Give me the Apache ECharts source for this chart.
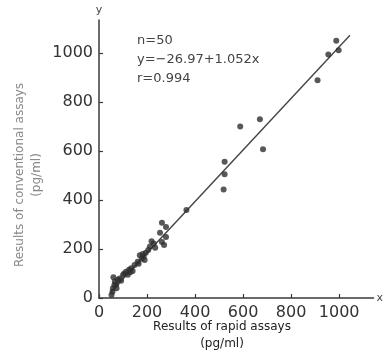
<!DOCTYPE html>
<html>
<head>
<meta charset="utf-8">
<script src="https://cdn.jsdelivr.net/npm/echarts@6/dist/echarts.min.js"></script>
<style>
  html, body { margin: 0; padding: 0; background: #fff; }
  #chart { width: 386px; height: 362px; }
</style>
</head>
<body>
<div id="chart"></div>
<script>
// rapid assay (x) vs conventional assay (y), pg/ml
const rapid = [
  988, 955, 998, 910, 670, 588, 683, 523, 523, 519,
  364, 262, 279, 254, 279, 262, 271, 219, 234, 205,
  228, 212, 186, 195, 178, 170, 161, 190, 165, 182,
  148, 134, 140, 125, 113, 120, 105, 130, 100, 86,
  92, 78, 66, 72, 64, 73, 56, 52, 60, 58
];
const conventional = [
  1050, 994, 1012, 889, 730, 700, 607, 556, 505, 443,
  359, 307, 290, 266, 249, 229, 216, 232, 205, 196,
  222, 210, 169, 185, 160, 175, 148, 155, 140, 180,
  135, 121, 110, 115, 107, 95, 100, 105, 94, 80,
  70, 75, 67, 55, 53, 40, 26, 12, 85, 40
];
const fitIntercept = -26.97;
const fitSlope = 1.052;
const fitRange = [50, 1045];
const tickValues = [0, 200, 400, 600, 800, 1000];
const statLines = ['n=50', 'y=\u221226.97+1.052x', 'r=0.994'];

const points = rapid.map((x, i) => [x, conventional[i]]);
const fitLine = fitRange.map(x => [x, fitIntercept + fitSlope * x]);

const chart = echarts.init(document.getElementById('chart'), null, { renderer: 'canvas' });

const axisCommon = {
  type: 'value',
  min: 0,
  axisLine: { show: true, lineStyle: { color: '#3a3a3a', width: 1.5 } },
  axisTick: { show: true, inside: true, length: 4, lineStyle: { color: '#3a3a3a', width: 1.2 }, customValues: tickValues },
  axisLabel: {
    color: '#333', fontSize: 16, fontFamily: 'DejaVu Sans',
    customValues: tickValues,
    formatter: v => String(v)
  },
  splitLine: { show: false },
  nameTextStyle: { color: '#444', fontSize: 11, fontFamily: 'DejaVu Sans' }
};

const option = {
  animation: false,
  backgroundColor: '#fff',
  grid: { left: 99, right: 8, top: 20, bottom: 64 },
  xAxis: Object.assign({}, axisCommon, {
    max: 1143,
    name: 'x',
    nameGap: 3,
    axisLabel: Object.assign({}, axisCommon.axisLabel, { margin: 7 })
  }),
  yAxis: Object.assign({}, axisCommon, {
    max: 1135,
    name: 'y',
    nameGap: 4,
    axisLabel: Object.assign({}, axisCommon.axisLabel, { margin: 6 })
  }),
  graphic: [
    {
      type: 'text', left: 137, top: 31,
      style: { text: statLines.join('\n'), fill: '#444', font: '13px DejaVu Sans', lineHeight: 19 }
    },
    {
      type: 'text', x: 222, y: 327,
      style: { text: 'Results of rapid assays', fill: '#222', font: '12px DejaVu Sans', align: 'center', verticalAlign: 'middle' }
    },
    {
      type: 'text', x: 222, y: 344,
      style: { text: '(pg/ml)', fill: '#222', font: '12px DejaVu Sans', align: 'center', verticalAlign: 'middle' }
    },
    {
      type: 'text', x: 20, y: 175, rotation: Math.PI / 2,
      style: { text: 'Results of conventional assays', fill: '#888', font: '12px DejaVu Sans', align: 'center', verticalAlign: 'middle' }
    },
    {
      type: 'text', x: 37, y: 175, rotation: Math.PI / 2,
      style: { text: '(pg/ml)', fill: '#888', font: '12px DejaVu Sans', align: 'center', verticalAlign: 'middle' }
    }
  ],
  series: [
    {
      type: 'line',
      data: fitLine,
      showSymbol: false,
      lineStyle: { color: '#444', width: 1.4 },
      z: 2
    },
    {
      type: 'scatter',
      data: points,
      symbolSize: 6,
      itemStyle: { color: '#2e2e2e' },
      z: 3
    }
  ]
};

chart.setOption(option);
</script>
</body>
</html>
